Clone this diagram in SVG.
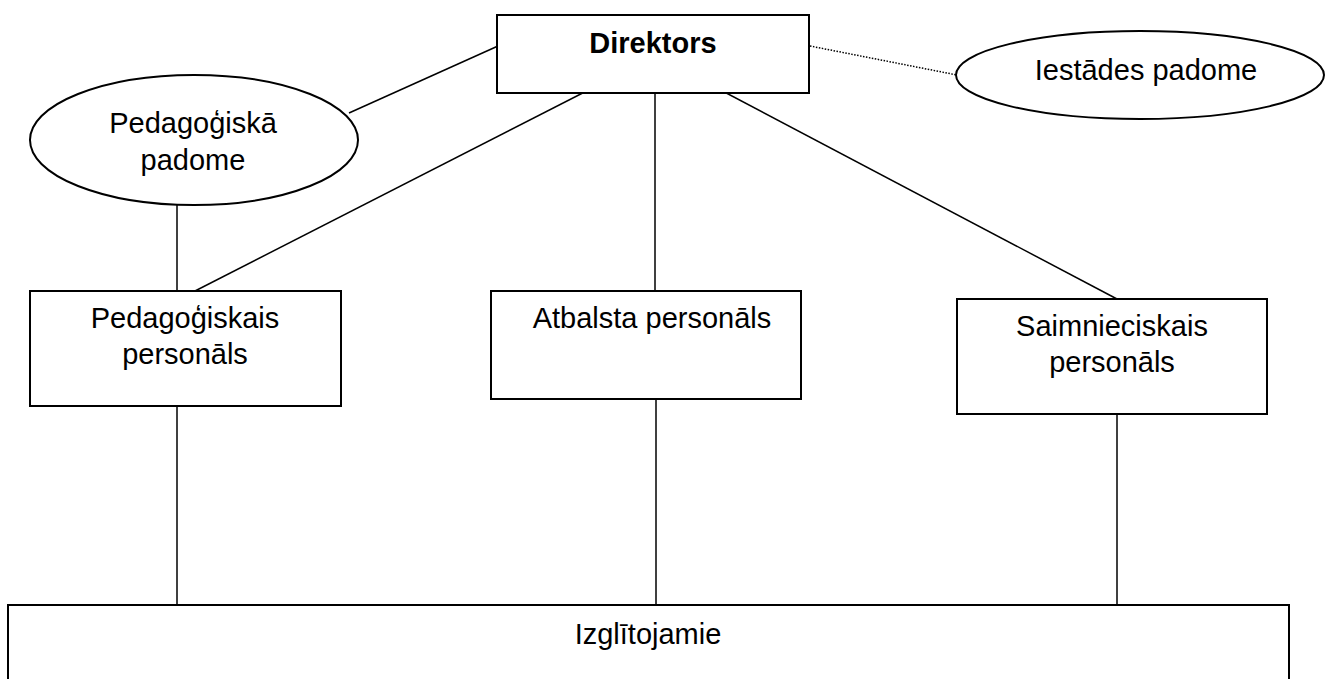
<svg xmlns="http://www.w3.org/2000/svg" width="1328" height="679" viewBox="0 0 1328 679">
<style>
.box{fill:#fff;stroke:#000;stroke-width:2}
.ell{fill:#fff;stroke:#000;stroke-width:2}
.ln{stroke:#000;stroke-width:1.5;fill:none}
.dot{stroke:#000;stroke-width:1.5;stroke-dasharray:1.5 1.5;fill:none}
text{font-family:"Liberation Sans",Arial,sans-serif;font-size:29px;fill:#000;text-anchor:middle}
.b{font-weight:bold}
</style>
<rect width="1328" height="679" fill="#fff"/>
<g id="connectors">
<line class="ln" x1="498" y1="46" x2="349" y2="113"/>
<line class="dot" x1="810" y1="46" x2="957" y2="75"/>
<line class="ln" x1="616" y1="76" x2="195" y2="291"/>
<line class="ln" x1="655" y1="76" x2="655" y2="291"/>
<line class="ln" x1="694" y1="76" x2="1117" y2="299"/>
<line class="ln" x1="177" y1="205" x2="177" y2="291"/>
<line class="ln" x1="177" y1="393" x2="177" y2="605"/>
<line class="ln" x1="656" y1="399" x2="656" y2="605"/>
<line class="ln" x1="1117" y1="400" x2="1117" y2="605"/>
</g>
<g id="direktors">
<rect class="box" x="497" y="15" width="312" height="78"/>
<text class="b" x="653" y="53">Direktors</text>
</g>
<g id="iestades-padome">
<ellipse class="ell" cx="1140" cy="75" rx="184" ry="44"/>
<text x="1146" y="80">Iestādes padome</text>
</g>
<g id="pedagogiska-padome">
<ellipse class="ell" cx="194" cy="140" rx="164" ry="65"/>
<text x="193" y="133">Pedagoģiskā</text>
<text x="193" y="170">padome</text>
</g>
<g id="pedagogiskais-personals">
<rect class="box" x="30" y="291" width="311" height="115"/>
<text x="185" y="328">Pedagoģiskais</text>
<text x="185" y="364">personāls</text>
</g>
<g id="atbalsta-personals">
<rect class="box" x="491" y="291" width="310" height="108"/>
<text x="652" y="328">Atbalsta personāls</text>
</g>
<g id="saimnieciskais-personals">
<rect class="box" x="957" y="299" width="310" height="115"/>
<text x="1112" y="336">Saimnieciskais</text>
<text x="1112" y="372">personāls</text>
</g>
<g id="izglitojamie">
<rect class="box" x="8" y="605" width="1281" height="90"/>
<text x="648" y="644">Izglītojamie</text>
</g>
</svg>
